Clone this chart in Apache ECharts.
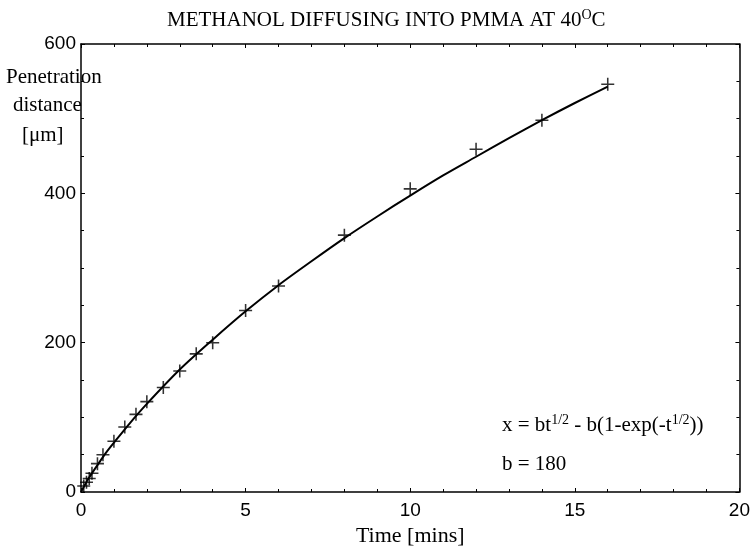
<!DOCTYPE html>
<html><head><meta charset="utf-8">
<script src="https://cdn.jsdelivr.net/npm/echarts@6/dist/echarts.min.js"></script>
<style>html,body{margin:0;padding:0;background:#fff}#c{width:753px;height:554px}</style>
</head><body><div id="c"></div>
<script>
// measured data points (time [mins], penetration distance [µm])
var measTime = [0.083, 0.167, 0.25, 0.333, 0.5, 0.667, 1, 1.33, 1.67, 2, 2.5, 3, 3.5, 4, 5, 6, 8, 10, 12, 14, 16];
var measDist = [8, 13, 18, 25, 38, 50, 68, 87, 104, 121, 140, 162, 185, 200, 243, 276, 344, 406, 459, 498, 546];
// fitted curve
var curveTime = [0, 0.05, 0.1, 0.2, 0.3, 0.5, 0.75, 1, 1.5, 2, 3, 4, 5, 6, 7, 8, 9, 10, 11, 12, 13, 14, 15, 16];
var curveDist = [0, 4, 8, 16, 23, 36, 52, 66, 93, 118, 164, 204, 242, 277, 309, 340, 369, 397, 424, 449, 474, 498, 521, 543];
var xTicks = [0, 5, 10, 15, 20];
var yTicks = [0, 200, 400, 600];

var serif = '"Liberation Serif", "DejaVu Serif", serif';
var sans = '"Liberation Sans", Arial, sans-serif';

function zip(a, b) { return a.map(function (v, i) { return [v, b[i]]; }); }

var plus = 'path://M-0.12,-1H0.12V-0.12H1V0.12H0.12V1H-0.12V0.12H-1V-0.12H-0.12Z';

var tickCommon = { show: true, inside: true, length: 4, lineStyle: { color: '#000', width: 1 } };
var minorCommon = { show: true, length: 3, lineStyle: { color: '#000', width: 1 } };

var chart = echarts.init(document.getElementById('c'), null, { renderer: 'canvas' });
chart.setOption({
  animation: false,
  backgroundColor: '#fff',
  title: {
    text: 'METHANOL DIFFUSING INTO PMMA AT 40{sup|O}C',
    left: 162, top: 3,
    textStyle: {
      fontFamily: serif, fontSize: 21, fontWeight: 'normal', color: '#000',
      rich: { sup: { fontFamily: serif, fontSize: 14, verticalAlign: 'top', padding: [0, 0, 10, 0], color: '#000' } }
    }
  },
  grid: { left: 81, right: 12, top: 44, bottom: 62, containLabel: false },
  xAxis: [{
    type: 'value', min: 0, max: 20, interval: 5,
    axisLine: { show: true, onZero: false, lineStyle: { color: '#000', width: 1.5 } },
    axisTick: tickCommon,
    minorTick: Object.assign({ splitNumber: 5 }, minorCommon),
    splitLine: { show: false },
    axisLabel: { margin: 9, fontFamily: sans, fontSize: 19, color: '#000',
      formatter: function (v) { return xTicks.indexOf(v) >= 0 ? String(v) : ''; } },
    name: 'Time [mins]', nameLocation: 'middle', nameGap: 31,
    nameTextStyle: { fontFamily: serif, fontSize: 22, color: '#000' }
  }, {
    type: 'value', min: 0, max: 20, interval: 5, position: 'top',
    axisLine: { show: true, onZero: false, lineStyle: { color: '#000', width: 1.5 } },
    axisTick: tickCommon,
    minorTick: Object.assign({ splitNumber: 5 }, minorCommon),
    splitLine: { show: false }, axisLabel: { show: false }
  }],
  yAxis: [{
    type: 'value', min: 0, max: 600, interval: 200,
    axisLine: { show: true, onZero: false, lineStyle: { color: '#000', width: 1.5 } },
    axisTick: tickCommon,
    minorTick: Object.assign({ splitNumber: 4 }, minorCommon),
    splitLine: { show: false },
    axisLabel: { margin: 5, fontFamily: sans, fontSize: 19, color: '#000',
      formatter: function (v) { return yTicks.indexOf(v) >= 0 ? String(v) : ''; } }
  }, {
    type: 'value', min: 0, max: 600, interval: 200, position: 'right',
    axisLine: { show: true, onZero: false, lineStyle: { color: '#000', width: 1.5 } },
    axisTick: tickCommon,
    minorTick: Object.assign({ splitNumber: 4 }, minorCommon),
    splitLine: { show: false }, axisLabel: { show: false }
  }],
  series: [{
    type: 'line', data: zip(curveTime, curveDist), smooth: 0.3,
    showSymbol: false, lineStyle: { color: '#000', width: 2 }, z: 2
  }, {
    type: 'scatter', data: zip(measTime, measDist),
    symbol: plus, symbolSize: 13, itemStyle: { color: '#000' }, z: 3
  }],
  graphic: [
    { type: 'text', left: 6, top: 67, style: { text: 'Penetration', font: '21px ' + serif, fill: '#000' } },
    { type: 'text', left: 13, top: 95, style: { text: 'distance', font: '21px ' + serif, fill: '#000' } },
    { type: 'text', left: 22, top: 125, style: { text: '[\u03bcm]', font: '21px ' + serif, fill: '#000' } },
    { type: 'text', left: 502, top: 413, style: {
        text: 'x = bt{s|1/2} - b(1-exp(-t{s|1/2}))',
        font: '21px ' + serif, fill: '#000',
        rich: { s: { fontFamily: serif, fontSize: 14, verticalAlign: 'top', padding: [0, 0, 11, 0], fill: '#000' } }
    } },
    { type: 'text', left: 502, top: 454, style: { text: 'b = 180', font: '21px ' + serif, fill: '#000' } }
  ]
});
</script></body></html>
